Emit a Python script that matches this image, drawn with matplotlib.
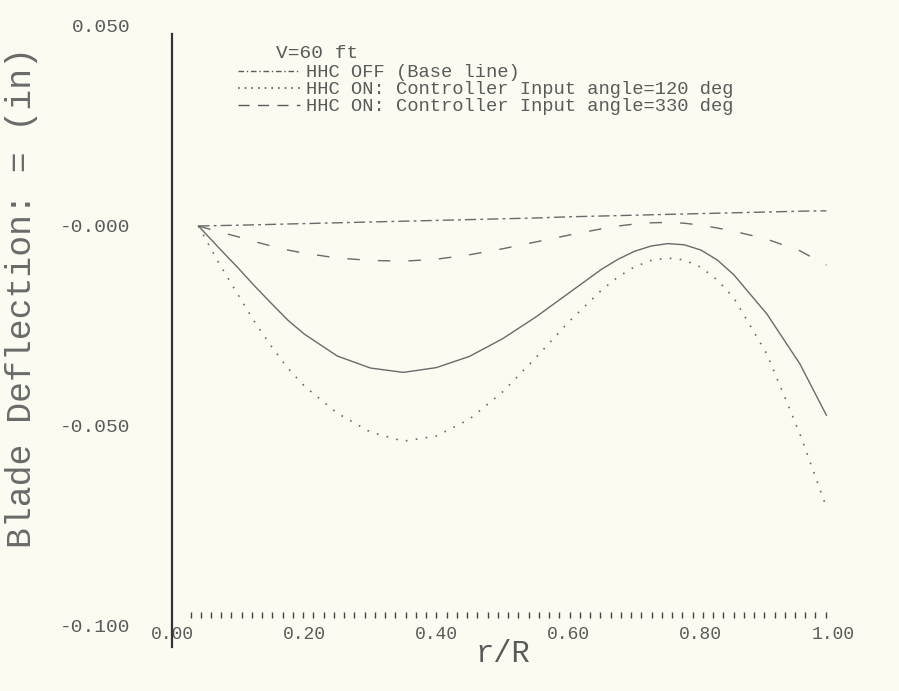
import numpy as np
import matplotlib
matplotlib.use("Agg")
import matplotlib.pyplot as plt
from matplotlib.ticker import FixedLocator, FixedFormatter
from matplotlib.lines import Line2D

# radial stations r/R
r_over_R = [0.04, 0.07, 0.10, 0.125, 0.15, 0.175, 0.20, 0.25, 0.30, 0.35,
            0.40, 0.45, 0.50, 0.55, 0.60, 0.65, 0.675, 0.70, 0.725, 0.75,
            0.775, 0.80, 0.825, 0.85, 0.90, 0.95, 0.99]

# blade deflection (in)
hhc_off = [0.0000, 0.0001, 0.0002, 0.0003, 0.0004, 0.0005, 0.0006, 0.0008, 0.0010, 0.0012,
           0.0014, 0.0016, 0.0018, 0.0020, 0.0023, 0.0025, 0.0026, 0.0027, 0.0028, 0.0029,
           0.0030, 0.0031, 0.0032, 0.0033, 0.0035, 0.0037, 0.0038]
hhc_on_120 = [0.0000, -0.0090, -0.0172, -0.0240, -0.0300, -0.0355, -0.0400, -0.0468, -0.0515, -0.0538,
              -0.0525, -0.0483, -0.0415, -0.0330, -0.0240, -0.0160, -0.0127, -0.0102, -0.0086, -0.0080,
              -0.0085, -0.0103, -0.0135, -0.0180, -0.0320, -0.0520, -0.0703]
hhc_on_330 = [0.0000, -0.0014, -0.0027, -0.0039, -0.0050, -0.0060, -0.0068, -0.0080, -0.0086, -0.0088,
              -0.0083, -0.0072, -0.0057, -0.0040, -0.0023, -0.0007, 0.0000, 0.0005, 0.0008, 0.0009,
              0.0007, 0.0002, -0.0005, -0.0013, -0.0033, -0.0062, -0.0098]
hhc_on_other = [0.0000, -0.0053, -0.0105, -0.0150, -0.0193, -0.0235, -0.0270, -0.0325, -0.0355, -0.0366,
                -0.0354, -0.0326, -0.0282, -0.0228, -0.0168, -0.0108, -0.0083, -0.0063, -0.0050, -0.0044,
                -0.0047, -0.0060, -0.0085, -0.0122, -0.0220, -0.0345, -0.0473]

legend_labels = ["HHC OFF (Base line)",
                 "HHC ON: Controller Input angle=120 deg",
                 "HHC ON: Controller Input angle=330 deg"]

x_ticks = [0.0, 0.2, 0.4, 0.6, 0.8, 1.0]
x_tick_labels = ["0.00", "0.20", "0.40", "0.60", "0.80", "1.00"]
y_ticks = [0.05, 0.0, -0.05, -0.1]
y_tick_labels = ["0.050", "-0.000", "-0.050", "-0.100"]

bg = "#fbfbf2"
ink = "#5a5a5a"
curve = "#6a6a6a"
mono = ["Liberation Mono", "DejaVu Sans Mono"]

W, H = 899, 691
fig = plt.figure(figsize=(W / 100, H / 100), dpi=100, facecolor=bg)

# 4000 px per inch of deflection, zero line at y = 226 px
y_top, y_bot = 0.0505, -0.101
top_px = 226 - y_top * 4000
bot_px = 226 - y_bot * 4000
ax = fig.add_axes([172 / W, (H - bot_px) / H, 661 / W, (bot_px - top_px) / H])
ax.set_facecolor(bg)

ax.plot(r_over_R, hhc_off, color=curve, lw=1.0, linestyle=(0, (8, 3, 2, 3)))
ax.plot(r_over_R, hhc_on_120, color=curve, lw=1.2, linestyle=(0, (1, 5)))
ax.plot(r_over_R, hhc_on_330, color=curve, lw=1.0, linestyle=(0, (9, 13)))
ax.plot(r_over_R, hhc_on_other, color=curve, lw=1.0, linestyle="-")

ax.set_xlim(0.0, 1.0)
ax.set_ylim(y_bot, y_top)

for side in ("top", "right"):
    ax.spines[side].set_visible(False)
ax.spines["left"].set_color("#333333")
ax.spines["left"].set_linewidth(1.6)
ax.spines["left"].set_bounds(-0.1053, 0.048)
ax.spines["bottom"].set_linewidth(0)
ax.spines["bottom"].set_position(("outward", -9))

ax.xaxis.remove_overlapping_locs = False
ax.xaxis.set_major_locator(FixedLocator(x_ticks))
ax.xaxis.set_major_formatter(FixedFormatter(x_tick_labels))
ax.xaxis.set_minor_locator(FixedLocator(np.arange(0.028, 0.995, 0.0155)))
ax.tick_params(axis="x", which="major", length=0, pad=6, labelsize=13,
               labelcolor=ink, labelfontfamily=mono)
ax.tick_params(axis="x", which="minor", direction="in", length=4, width=1.0,
               color="#444444")

ax.yaxis.set_major_locator(FixedLocator(y_ticks))
ax.yaxis.set_major_formatter(FixedFormatter(y_tick_labels))
ax.tick_params(axis="y", which="major", length=0, pad=30, labelsize=14,
               labelcolor=ink, labelfontfamily=mono)

ax.set_xlabel("r/R", fontsize=22, color=ink, family=mono, va="center")
ax.xaxis.set_label_coords(0.5, (bot_px - 654) / (bot_px - top_px))
ax.set_ylabel("Blade Deflection: = (in)", fontsize=25, color="#6a6a6a",
              family=mono, va="center")
ax.yaxis.set_label_coords((22 - 172) / 661, (bot_px - 297) / (bot_px - top_px))

fig.text(276 / W, 1 - 53 / H, "V=60 ft", fontsize=14, color=ink, family=mono,
         ha="left", va="center")

handles = [Line2D([], [], color=ink, lw=1.0, linestyle=(0, (4, 2, 1, 2))),
           Line2D([], [], color=ink, lw=1.2, linestyle=(0, (1, 3))),
           Line2D([], [], color=ink, lw=1.0, linestyle=(0, (8, 6)))]
leg = ax.legend(handles, legend_labels, loc="upper left",
                bbox_to_anchor=(238 / W, 1 - 64 / H), bbox_transform=fig.transFigure,
                frameon=False, borderpad=0, borderaxespad=0, handlelength=3.3,
                handletextpad=0.3, labelspacing=0.0,
                prop={"family": mono, "size": 13.5})
for t in leg.get_texts():
    t.set_color(ink)

fig.savefig("out.png", dpi=100, facecolor=bg)
